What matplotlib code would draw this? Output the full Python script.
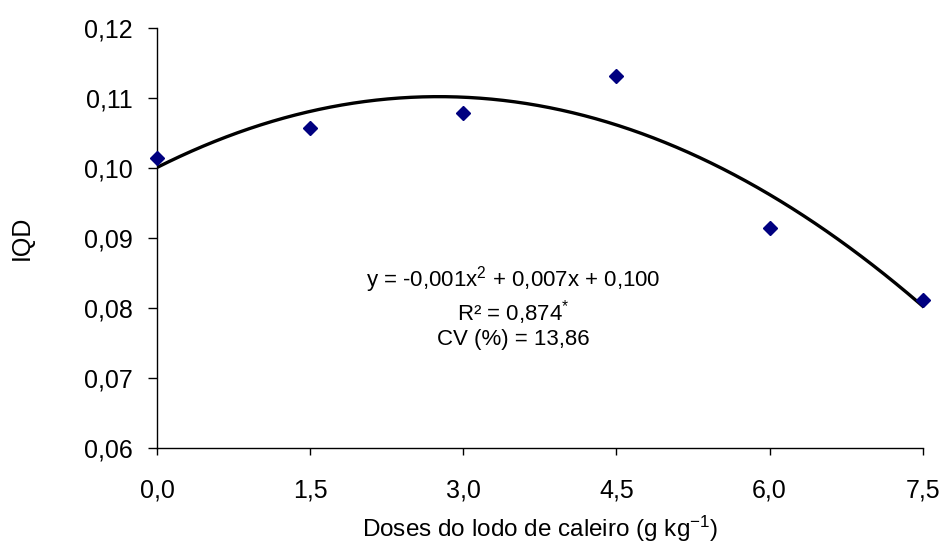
import matplotlib
matplotlib.use("Agg")
import matplotlib.pyplot as plt
import numpy as np

plt.rcParams['font.family'] = ['Liberation Sans', 'DejaVu Sans']
plt.rcParams['mathtext.default'] = 'regular'

# doses (g kg-1) and observed IQD
doses = [0.0, 1.5, 3.0, 4.5, 6.0, 7.5]
iqd = [0.1015, 0.1057, 0.1078, 0.1132, 0.0915, 0.0812]
xticks = [0.0, 1.5, 3.0, 4.5, 6.0, 7.5]
yticks = [0.06, 0.07, 0.08, 0.09, 0.10, 0.11, 0.12]

fig = plt.figure(figsize=(9.43, 5.44), dpi=100)
ax = fig.add_axes([0.1665, 0.1765, 0.812, 0.772])

# quadratic fit drawn through the points
coef = np.polyfit(doses, iqd, 2)
xs = np.linspace(0, 7.5, 200)
ax.plot(xs, np.polyval(coef, xs), color='black', lw=2.4, zorder=2)
ax.plot(doses, iqd, 'D', color='#000080', ms=7, zorder=3, clip_on=False)

ax.set_xlim(0, 7.5)
ax.set_ylim(0.06, 0.12)
ax.set_xticks(xticks)
ax.set_yticks(yticks)
ax.set_xticklabels([f"{v:.1f}".replace('.', ',') for v in xticks])
ax.set_yticklabels([f"{v:.2f}".replace('.', ',') for v in yticks])

for s in ['top', 'right']:
    ax.spines[s].set_visible(False)
for s in ['left', 'bottom']:
    ax.spines[s].set_linewidth(1.0)

ax.tick_params(axis='x', length=5, width=1, pad=17, labelsize=18)
ax.tick_params(axis='y', length=6.5, width=1, pad=11, labelsize=18)

ax.set_xlabel('Doses do lodo de caleiro (g kg$^{-1}$)', fontsize=17.5, labelpad=8)
ax.set_ylabel('IQD', fontsize=18, labelpad=36)

ax.text(0.465, 0.336, 'y = -0,001x$^{2}$ + 0,007x + 0,100\nR² = 0,874$^{*}$\nCV (%) = 13,86',
        transform=ax.transAxes, ha='center', va='center', fontsize=16,
        linespacing=1.12, multialignment='center')

fig.savefig('out.png', dpi=100)
